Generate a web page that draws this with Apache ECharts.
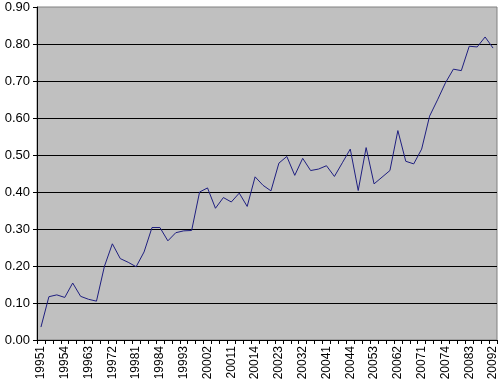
<!DOCTYPE html>
<html>
<head>
<meta charset="utf-8">
<script src="https://cdn.jsdelivr.net/npm/echarts@6/dist/echarts.min.js"></script>
<style>html,body{margin:0;padding:0;background:#fff}#c{width:500px;height:388px}</style>
</head>
<body>
<div id="c"></div>
<script>
const categories = [
 '19951','19952','19953','19954','19961','19962','19963','19964',
 '19971','19972','19973','19974','19981','19982','19983','19984',
 '19991','19992','19993','19994','20001','20002','20003','20004',
 '20011','20012','20013','20014','20021','20022','20023','20024',
 '20031','20032','20033','20034','20041','20042','20043','20044',
 '20051','20052','20053','20054','20061','20062','20063','20064',
 '20071','20072','20073','20074','20081','20082','20083','20084',
 '20091','20092'
];
const values = [
 0.035,0.117,0.122,0.115,0.154,0.118,0.110,0.105,
 0.199,0.260,0.220,0.210,0.198,0.238,0.304,0.304,
 0.268,0.290,0.295,0.296,0.400,0.411,0.356,0.385,
 0.373,0.397,0.361,0.441,0.418,0.403,0.478,0.496,
 0.445,0.491,0.458,0.462,0.471,0.442,0.479,0.516,
 0.404,0.520,0.422,0.440,0.458,0.566,0.483,0.476,
 0.516,0.605,0.649,0.695,0.732,0.728,0.794,0.792,
 0.819,0.789
];
const yTicks = {min: 0, max: 0.9, interval: 0.1};

const chart = echarts.init(document.getElementById('c'), null, {renderer: 'canvas'});
chart.setOption({
  animation: false,
  textStyle: {fontFamily: 'Liberation Sans, Arial, sans-serif'},
  grid: {left: 37, right: 3, top: 7, bottom: 48, show: true,
         backgroundColor: '#c0c0c0', borderColor: '#808080', borderWidth: 1},
  xAxis: {
    type: 'category', data: categories, boundaryGap: true,
    axisLine: {lineStyle: {color: '#000', width: 1}},
    axisTick: {show: true, interval: 0, length: 4, lineStyle: {color: '#000'}},
    axisLabel: {interval: 2, rotate: 90, color: '#000', fontSize: 12, margin: 6,
                fontFamily: 'Liberation Sans, Arial, sans-serif'},
    splitLine: {show: false}
  },
  yAxis: {
    type: 'value', min: yTicks.min, max: yTicks.max, interval: yTicks.interval,
    axisLine: {show: true, lineStyle: {color: '#000', width: 1}},
    axisTick: {show: true, length: 4, lineStyle: {color: '#000'}},
    axisLabel: {color: '#000', fontSize: 13, margin: 7,
                formatter: v => v.toFixed(2),
                fontFamily: 'Liberation Sans, Arial, sans-serif'},
    splitLine: {show: true, showMaxLine: false, lineStyle: {color: '#000', width: 1}}
  },
  series: [{
    type: 'line', data: values, symbol: 'none',
    lineStyle: {color: '#1f1f80', width: 1}
  }]
});
</script>
</body>
</html>
